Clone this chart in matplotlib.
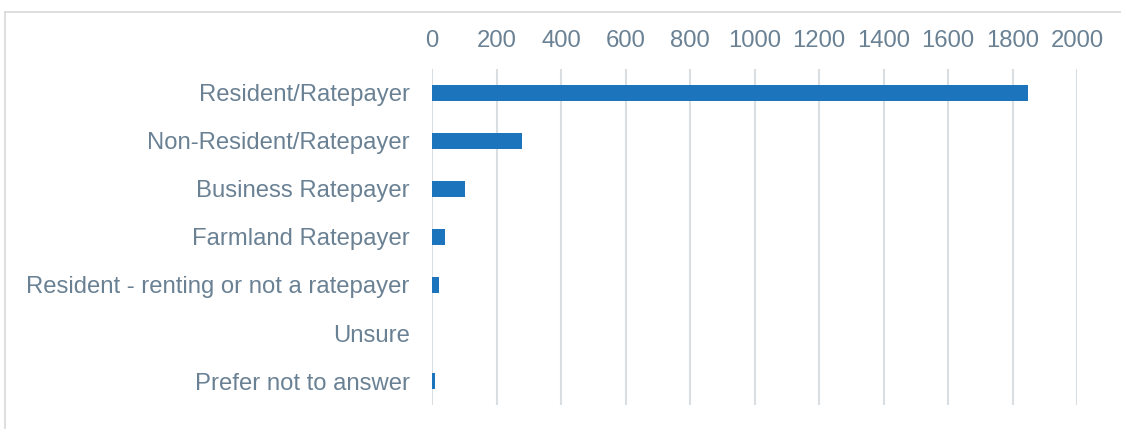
import matplotlib
matplotlib.use("Agg")
import matplotlib.pyplot as plt
from matplotlib.lines import Line2D

# survey answers
categories = ["Resident/Ratepayer", "Non-Resident/Ratepayer", "Business Ratepayer",
              "Farmland Ratepayer", "Resident - renting or not a ratepayer",
              "Unsure", "Prefer not to answer"]
counts = [1847, 278, 102, 40, 21, 0, 10]
xticks = [0, 200, 400, 600, 800, 1000, 1200, 1400, 1600, 1800, 2000]

text_color = "#6a8194"
grid_color = "#d9dee2"
bar_color = "#1c75bc"

plt.rcParams['font.family'] = ['Liberation Sans', 'DejaVu Sans']

fig = plt.figure(figsize=(11.21, 4.29), dpi=100)
ax = fig.add_axes([432 / 1121, 1 - 405 / 429, 645 / 1121, 336 / 429])

ypos = list(range(len(categories)))
ax.barh(ypos, counts, height=0.35, color=bar_color, zorder=3)

ax.set_xlim(0, 2000)
ax.set_ylim(len(categories) - 0.5, -0.5)
ax.set_xticks(xticks)
ax.set_xticklabels([str(t) for t in xticks])
ax.set_yticks(ypos)
ax.set_yticklabels(categories)

ax.xaxis.tick_top()
ax.tick_params(axis='x', length=0, pad=12, labelsize=17.2, labelcolor=text_color)
ax.tick_params(axis='y', length=0, pad=16, labelsize=17.2, labelcolor=text_color)
ax.grid(axis='x', color=grid_color, linewidth=1.5, zorder=0)
for s in ax.spines.values():
    s.set_visible(False)

# light frame around the chart (right and bottom are cut off)
x0 = 4.5 / 1121
y0 = 1 - 11.5 / 429
fig.add_artist(Line2D([x0, x0], [0, y0], color="#d9d9d9", lw=1.2, transform=fig.transFigure))
fig.add_artist(Line2D([x0, 1], [y0, y0], color="#d9d9d9", lw=1.2, transform=fig.transFigure))

fig.savefig("out.png", dpi=100)
